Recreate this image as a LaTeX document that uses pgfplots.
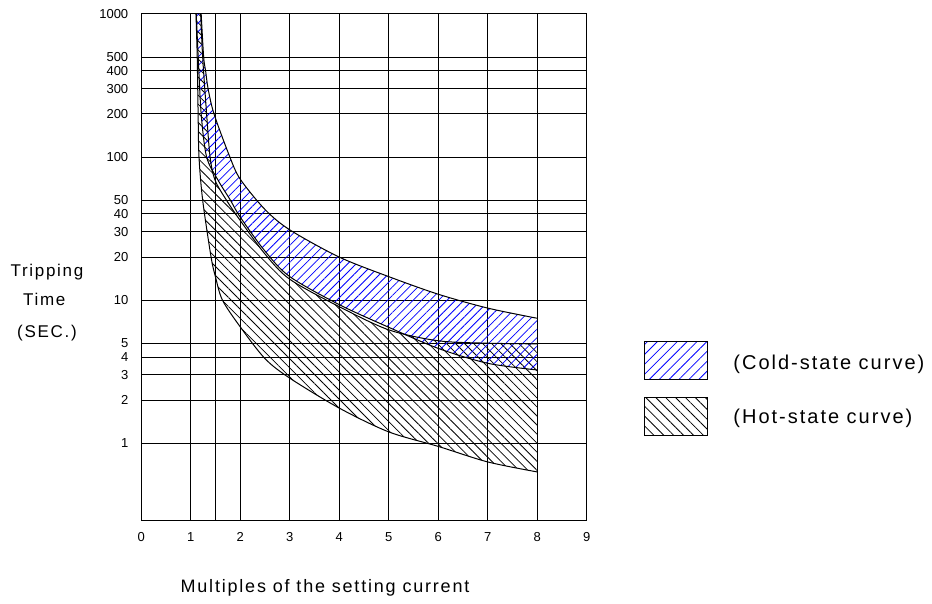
\documentclass[border=0pt]{standalone}
\usepackage{fontspec}
\setmainfont{Liberation Sans}
\newfontfamily\spaced[LetterSpace=10]{Liberation Sans}
\usepackage{pgfplots}
\pgfplotsset{compat=1.18}
\usepgfplotslibrary{fillbetween}
\usetikzlibrary{patterns.meta}

\pgfplotstableread{
x y
1.105 1000
1.13 500
1.148 200
1.166 100
1.24 50
1.41 20
1.5 14.5
1.64 10
2 6.5
2.5 3.9
3 2.85
4 1.76
5 1.2
6 0.95
7 0.74
8 0.63
}\hotlower
\pgfplotstableread{
x y
1.2 1000
1.24 500
1.32 200
1.39 100
1.49 69
1.72 50
2 36
2.5 21
3 14
4 9.0
5 6.2
6 5.2
7 5.0
8 4.95
}\hotupper
\pgfplotstableread{
x y
1.11 1000
1.15 500
1.21 200
1.32 100
1.55 69
1.8 50
2 38
2.5 22
3 14.6
4 9.3
5 6.46
6 4.6
7 3.62
8 3.25
}\coldlower
\pgfplotstableread{
x y
1.21 1000
1.26 500
1.30 400
1.35 300
1.47 200
1.79 100
2 70
2.5 43
3 31
4 20
5 14.6
6 11
7 8.8
8 7.47
}\coldupper

\begin{document}
\begin{tikzpicture}[x=1pt,y=1pt]
\path (-70.65,-39.5) rectangle (395.35,260.5);
\begin{axis}[
  at={(0,0)}, anchor=south west,
  scale only axis, width=222.7pt, height=253.5pt,
  xmin=0, xmax=9, ymode=log, ymin=0.286, ymax=1000,
  xtick={0,1,2,3,4,5,6,7,8,9},
  extra x ticks={1.5}, extra x tick labels={},
  extra x tick style={grid=major},
  ytick={1,2,3,4,5,10,20,30,40,50,100,200,300,400,500,1000},
  yticklabels={1,2,3,4,5,10,20,30,40,50,100,200,300,400,500,1000},
  grid=major, major grid style={black, line width=0.5pt},
  major tick length=0pt,
  axis line style={black, line width=0.5pt},
  /pgf/number format/assume math mode=true,
  tick label style={font=\fontsize{6.5}{7}\selectfont},
  xticklabel style={yshift=-2pt},
  yticklabel style={xshift=-3pt},
]
\addplot[black, line width=0.5pt, smooth, tension=0.5, name path=HL] table {\hotlower};
\addplot[black, line width=0.5pt, smooth, tension=0.5, name path=HU] table {\hotupper};
\addplot[black, line width=0.5pt, smooth, tension=0.5, name path=CL] table {\coldlower};
\addplot[black, line width=0.5pt, smooth, tension=0.5, name path=CU] table {\coldupper};
\addplot[draw=none, pattern={Lines[angle=-45,distance=3.2pt,line width=0.4pt]}, pattern color=black] fill between[of=HU and HL];
\addplot[draw=none, pattern={Lines[angle=45,distance=3pt,line width=0.4pt]}, pattern color=blue] fill between[of=CU and CL];
\end{axis}
% axis labels
\node[font=\spaced\fontsize{8.5}{10}\selectfont] at (-47.15,124.5) {Tripping};
\node[font=\spaced\fontsize{8.5}{10}\selectfont] at (-48.5,111) {Time};
\node[font=\spaced\fontsize{8.5}{10}\selectfont] at (-47.15,94) {(SEC.)};
\node[font=\spaced\fontsize{9}{10}\selectfont] at (91.85,-33.5) {Multiples of the setting current};
% legend
\draw[line width=0.5pt, pattern={Lines[angle=45,distance=3.5pt,line width=0.4pt]}, pattern color=blue] (251.35,70.5) rectangle (282.85,89.5);
\draw[line width=0.5pt, pattern={Lines[angle=-45,distance=3.5pt,line width=0.4pt]}, pattern color=black] (251.35,42.5) rectangle (282.85,61.5);
\node[anchor=west, font=\spaced\fontsize{10}{11}\selectfont, inner sep=0pt] at (295.85,78.5) {(Cold-state curve)};
\node[anchor=west, font=\spaced\fontsize{10}{11}\selectfont, inner sep=0pt] at (295.85,51.5) {(Hot-state curve)};
\end{tikzpicture}
\end{document}
